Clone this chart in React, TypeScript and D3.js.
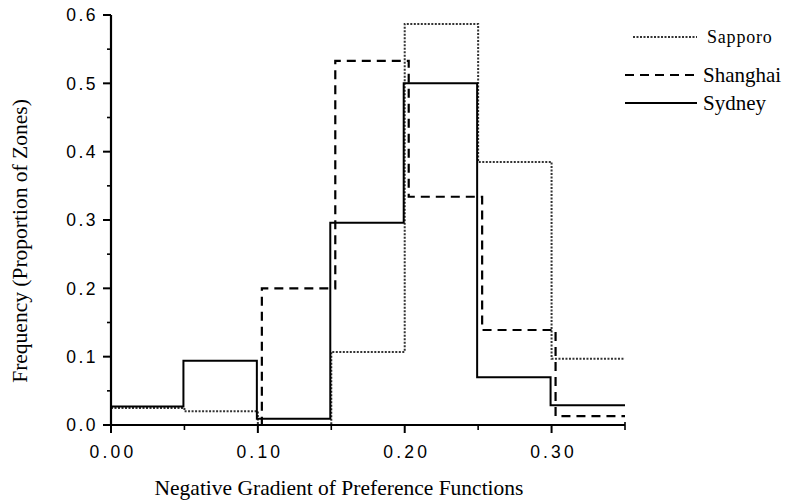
import React from 'react';
import * as d3 from 'd3';

// bin edges (left side of each bin) and the values
const binStarts = [0, 0.05, 0.10, 0.15, 0.20, 0.25, 0.30];
const binEnd = 0.35;

const sapporo = [0.025, 0.020, 0.000, 0.107, 0.587, 0.385, 0.097];
const shanghai = [0.000, 0.000, 0.200, 0.533, 0.334, 0.139, 0.013];
const sydney = [0.027, 0.094, 0.009, 0.296, 0.500, 0.070, 0.029];

const xMajor = [0, 0.10, 0.20, 0.30];
const xMinor = [0.05, 0.15, 0.25, 0.35];
const yMajor = [0, 0.1, 0.2, 0.3, 0.4, 0.5, 0.6];
const yMinor = [0.05, 0.15, 0.25, 0.35, 0.45, 0.55];

const seriesNames = ['Sapporo', 'Shanghai', 'Sydney'];

const W = 787;
const H = 502;

const x = d3.scaleLinear().domain([0, binEnd]).range([111, 625]);
const y = d3.scaleLinear().domain([0, 0.6]).range([425, 15]);

const styles = [
  { stroke: '#333', width: 2, dash: '2,1.5', shift: 0 },
  { stroke: '#000', width: 2.2, dash: '9,6', shift: 4 },
  { stroke: '#000', width: 2, dash: null, shift: -1 },
];

const stepPath = (vals: number[], shift: number) => {
  const pts: [number, number][] = binStarts.map((b, i) => [b, vals[i]]);
  pts.push([binEnd, vals[vals.length - 1]]);
  const line = d3.line<[number, number]>()
    .x((d, i) => x(d[0]) + (i === 0 || i === pts.length - 1 ? 0 : shift))
    .y(d => y(d[1]))
    .curve(d3.curveStepAfter);
  return line(pts) || '';
};

const tickFont = '"Liberation Sans", Arial, sans-serif';
const serif = '"Liberation Serif", "Times New Roman", serif';

const App = () => {
  const data = [sapporo, shanghai, sydney];
  return (
    <svg width={W} height={H} style={{ position: 'absolute', left: 0, top: 0, background: '#fff' }}>
      {/* series */}
      {data.map((vals, i) => (
        <path key={seriesNames[i]} d={stepPath(vals, styles[i].shift)} fill="none"
          stroke={styles[i].stroke} strokeWidth={styles[i].width}
          strokeDasharray={styles[i].dash || undefined} />
      ))}

      {/* y axis */}
      <line x1={x(0)} x2={x(0)} y1={y(0.6)} y2={y(0)} stroke="#000" strokeWidth={2.2} />
      {yMajor.map(v => (
        <g key={'ym' + v}>
          <line x1={x(0) - 8} x2={x(0)} y1={y(v)} y2={y(v)} stroke="#000" strokeWidth={2} />
          <text x={98} y={y(v)} dy="0.36em" textAnchor="end" fontFamily={tickFont}
            fontSize={17.5} letterSpacing={2.5}>{v.toFixed(1)}</text>
        </g>
      ))}
      {yMinor.map(v => (
        <line key={'yn' + v} x1={x(0) - 4} x2={x(0)} y1={y(v)} y2={y(v)} stroke="#000" strokeWidth={1.6} />
      ))}

      {/* x axis */}
      <line x1={x(0) - 8} x2={x(binEnd)} y1={y(0)} y2={y(0)} stroke="#000" strokeWidth={2.2} />
      {xMajor.map(v => (
        <g key={'xm' + v}>
          <line x1={x(v)} x2={x(v)} y1={y(0)} y2={y(0) + 8} stroke="#000" strokeWidth={2} />
          <text x={x(v) + 2} y={458} textAnchor="middle" fontFamily={tickFont}
            fontSize={17.5} letterSpacing={3.2}>{v.toFixed(2)}</text>
        </g>
      ))}
      {xMinor.map(v => (
        <line key={'xn' + v} x1={x(v)} x2={x(v)} y1={y(0) - (v === binEnd ? 3 : 0)} y2={y(0) + 5}
          stroke="#000" strokeWidth={1.6} />
      ))}

      {/* axis titles */}
      <text x={339} y={495} textAnchor="middle" fontFamily={serif} fontSize={21.5}>
        Negative Gradient of Preference Functions
      </text>
      <text transform="translate(27,241) rotate(-90)" textAnchor="middle" fontFamily={serif} fontSize={21.5}>
        Frequency (Proportion of Zones)
      </text>

      {/* legend */}
      {seriesNames.map((name, i) => {
        const ly = [37, 75, 103][i];
        return (
          <g key={'lg' + name}>
            <line x1={i === 0 ? 633 : 625} x2={697} y1={ly} y2={ly} stroke={styles[i].stroke}
              strokeWidth={styles[i].width} strokeDasharray={styles[i].dash || undefined} />
            <text x={i === 0 ? 707 : 703} y={ly} dy="0.32em" fontFamily={serif}
              fontSize={i === 0 ? 18 : 21} letterSpacing={i === 0 ? 0.8 : 0}>{name}</text>
          </g>
        );
      })}
    </svg>
  );
};

export default App;
